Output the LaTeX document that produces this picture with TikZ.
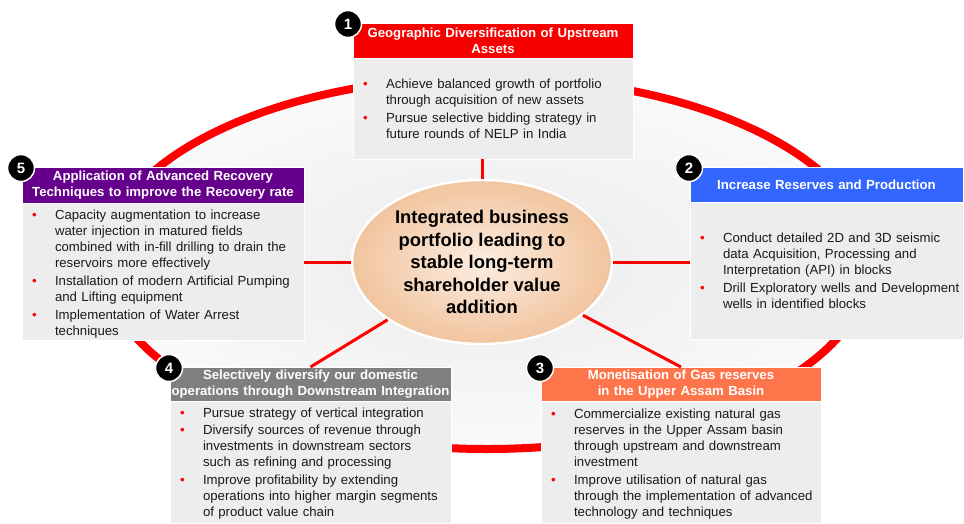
\documentclass[tikz,border=0pt]{standalone}
\usepackage{fontspec}
\setmainfont{Liberation Sans}
\usetikzlibrary{positioning}
\usetikzlibrary{shapes.geometric}

\definecolor{ringRed}{HTML}{FF0000}
\definecolor{geoRed}{HTML}{F80000}
\definecolor{resBlue}{HTML}{3366FF}
\definecolor{gasOrange}{HTML}{FF754B}
\definecolor{dsGray}{HTML}{7F7F7F}
\definecolor{recPurple}{HTML}{66008C}
\definecolor{bodyGray}{HTML}{EDEDED}
\definecolor{peachIn}{HTML}{FCEDE2}
\definecolor{peachOut}{HTML}{F1C49E}
\definecolor{txtDark}{HTML}{1A1A1A}

% one bullet point: red dot, then the lines of the point
\newcommand{\itm}[1]{\par\noindent\hspace*{10pt}\makebox[23pt][l]{\textcolor{red}{\textbullet}}%
  \begin{tabular}[t]{@{}l@{}}#1\end{tabular}\par\vspace{1pt}}

\begin{document}
\begin{tikzpicture}[x=1pt,y=-1pt,
  head/.style={anchor=north west,inner sep=0,outer sep=0,draw=white,line width=1,
    text=white,align=center,font=\fontsize{13.2}{16}\selectfont\bfseries},
  body/.style={below=0pt of #1,fill=bodyGray,draw=white,line width=1,inner sep=0,
    outer sep=0,text=txtDark,align=left,font=\fontsize{13.2}{16}\selectfont},
  num/.style={circle,fill=black,draw=white,line width=1.5,text=white,minimum size=27pt,
    inner sep=0,font=\fontsize{15}{15}\selectfont\bfseries},
  link/.style={ringRed,line width=3}]
  \useasboundingbox (0,0) rectangle (964,523);

  % the big ring behind everything
  \path[draw=ringRed,line width=8,inner color=black!8,outer color=black!2]
    (487,263) ellipse [x radius=383,y radius=186];

  % 1
  \node[head,fill=geoRed,text width=280pt,minimum height=35pt] (geoHead) at (353,23)
    {Geographic Diversification of Upstream\\Assets};
  \node[body=geoHead,text width=280pt,minimum height=101pt] (geoBody)
    {\itm{Achieve balanced growth of portfolio\\through acquisition of new assets}
     \itm{Pursue selective bidding strategy in\\future rounds of NELP in India}};
  \node[num] (geoNum) at ([shift={(-5,1)}]geoHead.north west) {1};

  % 2
  \node[head,fill=resBlue,text width=273pt,minimum height=35pt] (resHead) at (690,167)
    {Increase Reserves and Production};
  \node[body=resHead,text width=273pt,minimum height=137pt] (resBody)
    {\itm{Conduct detailed 2D and 3D seismic\\data Acquisition, Processing and\\Interpretation (API) in blocks}
     \itm{Drill Exploratory wells and Development\\wells in identified blocks}};
  \node[num] (resNum) at ([shift={(-1,1)}]resHead.north west) {2};

  % 3
  \node[head,fill=gasOrange,text width=280pt,minimum height=34pt] (gasHead) at (541,367)
    {Monetisation of Gas reserves\\in the Upper Assam Basin};
  \node[body=gasHead,text width=280pt,minimum height=122pt] (gasBody)
    {\itm{Commercialize existing natural gas\\reserves in the Upper Assam basin\\through upstream and downstream\\investment}
     \itm{Improve utilisation of natural gas\\through the implementation of advanced\\technology and techniques}};
  \node[num] (gasNum) at ([shift={(-1,1)}]gasHead.north west) {3};

  % 4
  \node[head,fill=dsGray,text width=281pt,minimum height=34pt] (dsHead) at (170,367)
    {Selectively diversify our domestic\\operations through Downstream Integration};
  \node[body=dsHead,text width=281pt,minimum height=122pt] (dsBody)
    {\itm{Pursue strategy of vertical integration}
     \itm{Diversify sources of revenue through\\investments in downstream sectors\\such as refining and processing}
     \itm{Improve profitability by extending\\operations into higher margin segments\\of product value chain}};
  \node[num] (dsNum) at ([shift={(-1,1)}]dsHead.north west) {4};

  % 5
  \node[head,fill=recPurple,text width=282pt,minimum height=36pt] (recHead) at (22,167)
    {Application of Advanced Recovery\\Techniques to improve the Recovery rate};
  \node[body=recHead,text width=282pt,minimum height=137pt] (recBody)
    {\itm{Capacity augmentation to increase\\water injection in matured fields\\combined with in-fill drilling to drain the\\reservoirs more effectively}
     \itm{Installation of modern Artificial Pumping\\and Lifting equipment}
     \itm{Implementation of Water Arrest\\techniques}};
  \node[num] (recNum) at ([shift={(-1,1)}]recHead.north west) {5};

  % centre
  \node[ellipse,minimum width=260pt,minimum height=164pt,draw=white,line width=2.5,
    inner color=peachIn,outer color=peachOut,align=center,
    font=\fontsize{18.4}{22.5}\selectfont\bfseries] (core) at (482,262)
    {Integrated business\\portfolio leading to\\stable long-term\\shareholder value\\addition};

  \draw[link] (core.north) -- (core.north |- geoBody.south);
  \draw[link] (core.east) -- (core.east -| resBody.west);
  \draw[link] (core) -- (gasHead.north);
  \draw[link] (core) -- (dsHead.north);
  \draw[link] (core.west) -- (core.west -| recBody.east);
\end{tikzpicture}
\end{document}
